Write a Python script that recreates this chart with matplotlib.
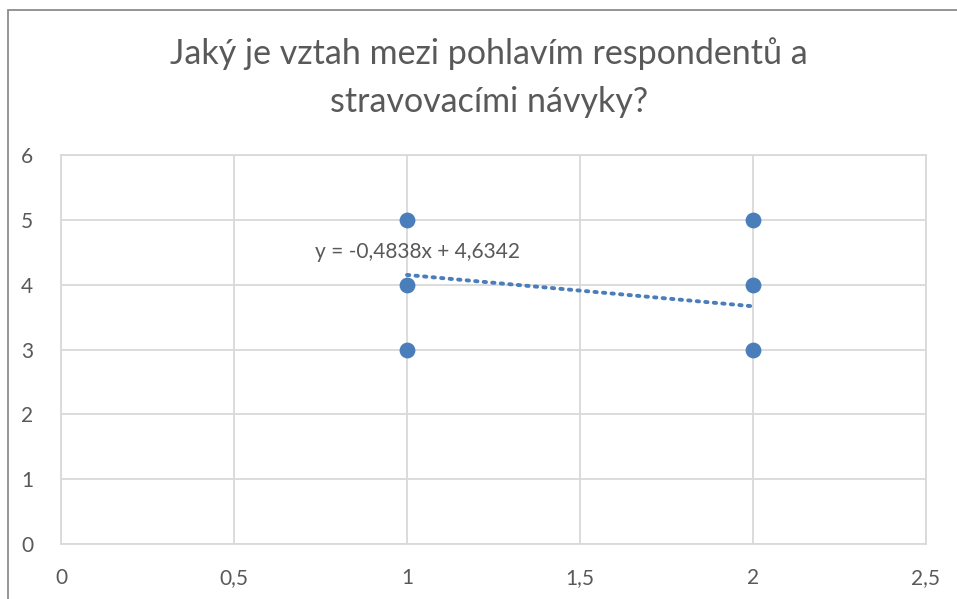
import matplotlib
matplotlib.use("Agg")
import matplotlib.pyplot as plt
from matplotlib.patches import Rectangle
import numpy as np

plt.rcParams['font.family'] = ['Lato', 'DejaVu Sans']

# Data
x_vals = [1, 1, 1, 2, 2, 2]
y_vals = [3, 4, 5, 3, 4, 5]
slope = -0.4838
intercept = 4.6342
trend_x = [1, 2]
title = "Jaký je vztah mezi pohlavím respondentů a\nstravovacími návyky?"
trend_label = "y = -0,4838x + 4,6342"
x_ticks = [0, 0.5, 1, 1.5, 2, 2.5]
x_tick_labels = ["0", "0,5", "1", "1,5", "2", "2,5"]
y_ticks = [0, 1, 2, 3, 4, 5, 6]

W, H = 957, 599
fig = plt.figure(figsize=(W / 100, H / 100), dpi=100)
fig.patch.set_facecolor('white')

# outer chart border (left + top visible)
fig.patches.append(Rectangle((8 / W, -0.1), 1.2, (H - 10) / H + 0.1,
                             transform=fig.transFigure, fill=False,
                             edgecolor='#8c8c8c', linewidth=1.3, zorder=0))

ax = fig.add_axes([61 / W, (H - 544) / H, (926 - 61) / W, (544 - 155) / H])
ax.set_xlim(0, 2.5)
ax.set_ylim(0, 6)
ax.set_xticks(x_ticks)
ax.set_xticklabels(x_tick_labels)
ax.set_yticks(y_ticks)
ax.grid(True, color='#d9d9d9', linewidth=1.3, zorder=0)
for s in ax.spines.values():
    s.set_color('#d9d9d9')
    s.set_linewidth(1.3)
ax.tick_params(length=0, labelsize=15, labelcolor='#595959')
ax.tick_params(axis='x', pad=17)
ax.tick_params(axis='y', pad=20)

ax.scatter(x_vals, y_vals, s=130, color='#4a7ebb', zorder=3, linewidths=0)
ty = [slope * t + intercept for t in trend_x]
ax.plot(trend_x, ty, linestyle=(0, (0.6, 1.6)), color='#4a7ebb', linewidth=2.8,
        dash_capstyle='round', zorder=2)
ax.text(0.734, 4.50, trend_label, fontsize=15, color='#595959', va='center', ha='left')

fig.text(489 / W, (H - 77.5) / H, title, fontsize=24.5, color='#595959',
         ha='center', va='center', linespacing=1.6)

fig.savefig('out.png', dpi=100)
